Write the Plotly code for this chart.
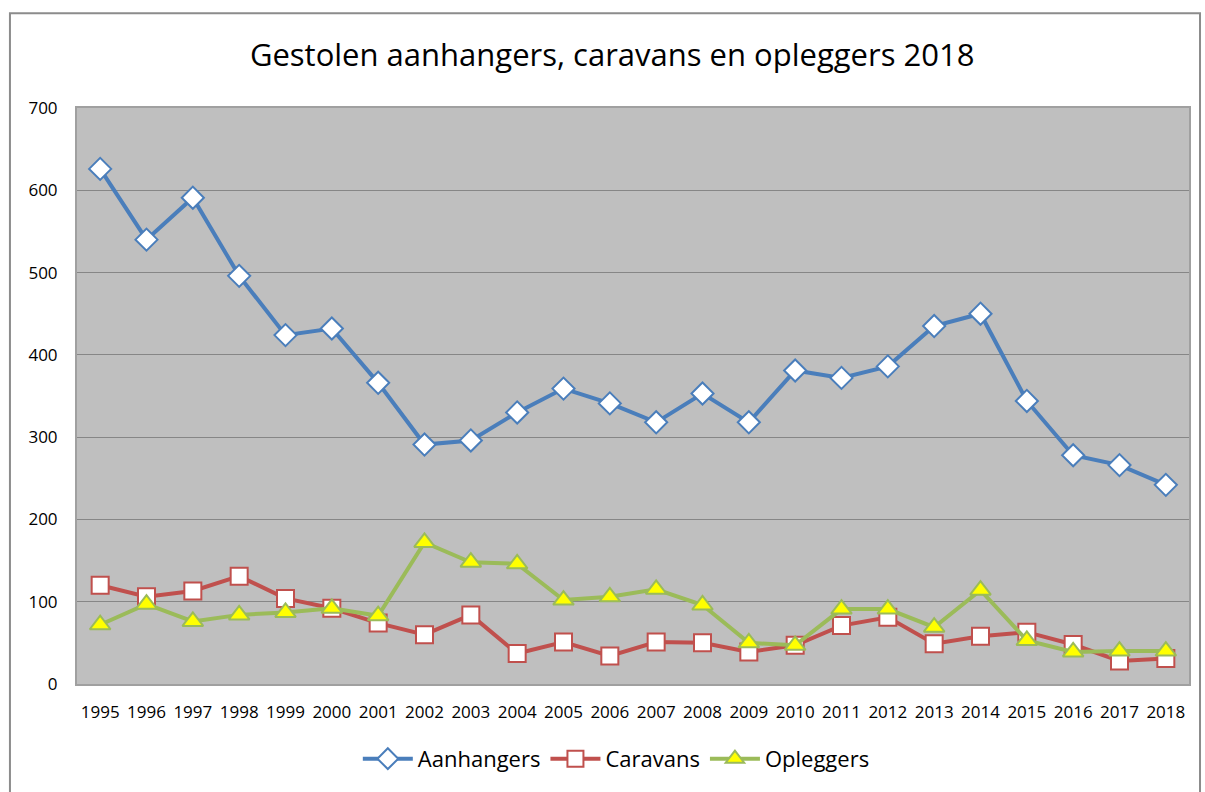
import plotly.graph_objects as go

years = [str(y) for y in range(1995, 2019)]
aanhangers = [626, 540, 591, 496, 424, 432, 366, 291, 296, 330, 359, 341, 318, 353, 318, 381,
              372, 386, 435, 450, 344, 278, 266, 242]
caravans = [120, 106, 113, 131, 104, 92, 74, 60, 84, 37, 51, 34, 51, 50, 39, 47,
            71, 81, 49, 58, 63, 48, 28, 31]
opleggers = [72, 97, 76, 84, 87, 92, 83, 172, 148, 146, 102, 106, 115, 96, 50, 47,
             91, 91, 69, 114, 53, 39, 40, 40]

FONT = "Open Sans"

fig = go.Figure()
fig.add_trace(go.Scatter(
    x=years, y=aanhangers, name="Aanhangers", mode="lines+markers",
    line=dict(color="#4A7EBB", width=4),
    marker=dict(symbol="diamond", size=17, color="white", line=dict(color="#4A7EBB", width=2)),
))
fig.add_trace(go.Scatter(
    x=years, y=caravans, name="Caravans", mode="lines+markers",
    line=dict(color="#C0504D", width=4),
    marker=dict(symbol="square", size=17, color="white", line=dict(color="#C0504D", width=2)),
))
fig.add_trace(go.Scatter(
    x=years, y=opleggers, name="Opleggers", mode="lines+markers",
    line=dict(color="#9BBB59", width=4),
    marker=dict(symbol="triangle-up", size=18, color="#FFFF00", line=dict(color="#9BBB59", width=2)),
))

fig.update_layout(
    width=1205, height=792,
    margin=dict(l=77, r=16, t=108, b=104),
    paper_bgcolor="white",
    plot_bgcolor="#BFBFBF",
    font=dict(family=FONT, color="#000000"),
    title=dict(text="Gestolen aanhangers, caravans en opleggers 2018",
               x=0.508, xanchor="center", y=0.93, yanchor="middle",
               font=dict(size=31, family=FONT, color="#000000")),
    showlegend=True,
    legend=dict(orientation="h", x=0.485, xanchor="center", y=-0.13, yanchor="middle",
                font=dict(size=22, family=FONT), itemwidth=50,
                bgcolor="rgba(0,0,0,0)"),
    xaxis=dict(type="category", showgrid=False, ticks="", showline=True, mirror=True,
               linecolor="#A0A0A0", linewidth=2, tickfont=dict(size=17), ticklabelstandoff=12,
               range=[-0.5, 23.5]),
    yaxis=dict(range=[0, 700], dtick=100, showgrid=True, gridcolor="#868686", gridwidth=1,
               showline=True, mirror=True, linecolor="#A0A0A0", linewidth=2, ticks="",
               zeroline=False, tickfont=dict(size=17), ticklabelstandoff=14),
    shapes=[dict(type="rect", xref="paper", yref="paper",
                 x0=-0.0603, x1=1.0099, y0=-0.25, y1=1.1646,
                 line=dict(color="#8C8C8C", width=2), fillcolor="rgba(0,0,0,0)", layer="below")],
)

fig.write_html("out.html", post_script="document.body.style.margin='0';",
               config={"displayModeBar": False})
